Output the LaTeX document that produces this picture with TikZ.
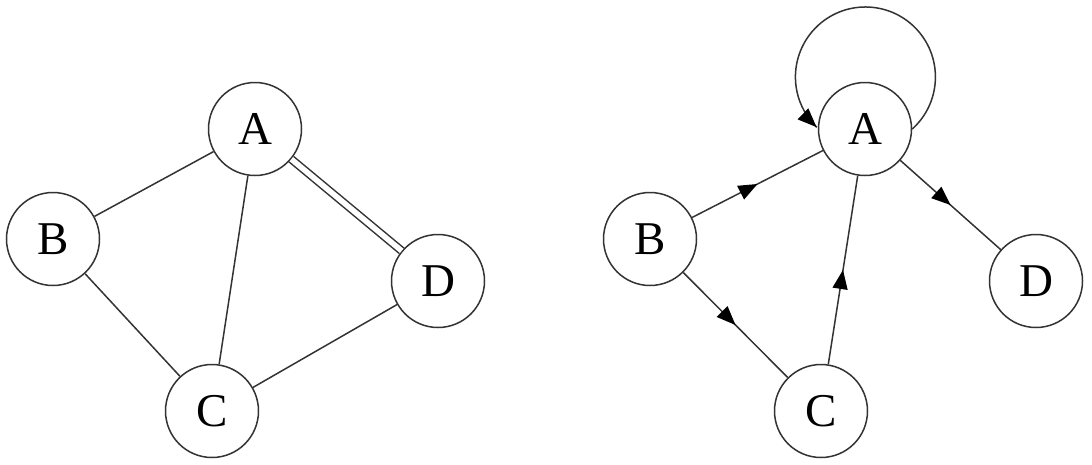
\documentclass[tikz,border=0pt]{standalone}
\usepackage{fontspec}
\setmainfont{Liberation Serif}
\usetikzlibrary{arrows.meta,decorations.markings}
\begin{document}
\begin{tikzpicture}[x=1pt,y=1pt,
  vtx/.style={circle,draw=black!80,line width=1.5pt,minimum size=93pt,inner sep=0pt,
    font=\fontsize{47}{50}\selectfont},
  edge/.style={draw=black!80,line width=1.5pt},
  midarrow/.style={postaction={decorate},
    decoration={markings,mark=at position 0.5 with {\arrow[black]{Triangle[length=19pt,width=15pt]}}}},
  endarrow/.style={postaction={decorate},
    decoration={markings,mark=at position 0.999 with {\arrow[black]{Triangle[length=19pt,width=15pt]}}}}
]
\useasboundingbox (0,0) rectangle (1092,-464);
% left graph
\node[vtx] (A1) at (255,-129) {A};
\node[vtx] (B1) at (53,-239) {B};
\node[vtx] (C1) at (212,-411) {C};
\node[vtx] (D1) at (438,-281) {D};
\draw[edge] (B1) -- (A1);
\draw[edge] (B1) -- (C1);
\draw[edge] (C1) -- (A1);
\draw[edge] (C1) -- (D1);
\draw[edge,double,double distance=5.5pt] (A1) -- (D1);
% right graph
\node[vtx] (A2) at (865,-129) {A};
\node[vtx] (B2) at (650,-239) {B};
\node[vtx] (C2) at (821,-411) {C};
\node[vtx] (D2) at (1036,-281) {D};
\draw[edge,midarrow] (B2) -- (A2);
\draw[edge,midarrow] (B2) -- (C2);
\draw[edge,midarrow] (C2) -- (A2);
\draw[edge,midarrow] (A2) -- (D2);
\draw[edge,endarrow] (A2.east) arc[start angle=-48,end angle=226,radius=70pt];
\end{tikzpicture}
\end{document}
